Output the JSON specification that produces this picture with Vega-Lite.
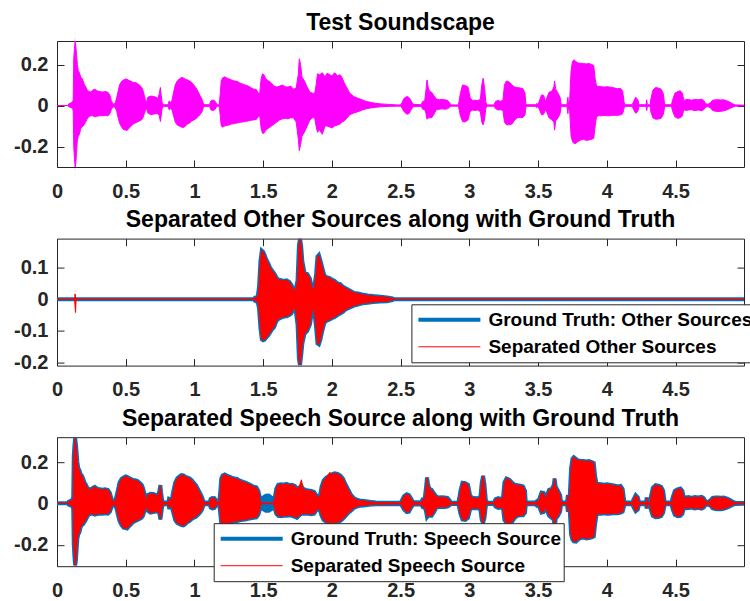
{
  "$schema": "https://vega.github.io/schema/vega-lite/v6.json",
  "background": "white",
  "padding": {"left": 13, "top": 11, "right": 0, "bottom": 0},
  "bounds": "flush",
  "spacing": 71.6,
  "datasets": {
    "soundscape": [
      {"t":0,"hi":0,"lo":0},{"t":0.08,"hi":0,"lo":0},{"t":0.085,"hi":0.008,"lo":-0.006},{"t":0.1,"hi":0.012,"lo":-0.01},{"t":0.115,"hi":0.02,"lo":-0.015},{"t":0.118,"hi":0.03,"lo":-0.03},{"t":0.122,"hi":0.23,"lo":-0.2},{"t":0.127,"hi":0.28,"lo":-0.26},{"t":0.132,"hi":0.315,"lo":-0.3},{"t":0.137,"hi":0.29,"lo":-0.28},{"t":0.142,"hi":0.25,"lo":-0.23},{"t":0.148,"hi":0.2,"lo":-0.17},{"t":0.155,"hi":0.17,"lo":-0.15},{"t":0.163,"hi":0.16,"lo":-0.14},{"t":0.172,"hi":0.14,"lo":-0.115},{"t":0.18,"hi":0.135,"lo":-0.105},{"t":0.19,"hi":0.12,"lo":-0.1},{"t":0.2,"hi":0.1,"lo":-0.09},{"t":0.21,"hi":0.09,"lo":-0.078},{"t":0.22,"hi":0.075,"lo":-0.065},{"t":0.23,"hi":0.07,"lo":-0.055},{"t":0.245,"hi":0.066,"lo":-0.05},{"t":0.26,"hi":0.075,"lo":-0.05},{"t":0.275,"hi":0.08,"lo":-0.055},{"t":0.29,"hi":0.072,"lo":-0.052},{"t":0.31,"hi":0.068,"lo":-0.05},{"t":0.33,"hi":0.066,"lo":-0.05},{"t":0.35,"hi":0.068,"lo":-0.048},{"t":0.37,"hi":0.065,"lo":-0.05},{"t":0.385,"hi":0.05,"lo":-0.04},{"t":0.395,"hi":0.025,"lo":-0.02},{"t":0.405,"hi":0.01,"lo":-0.008},{"t":0.415,"hi":0.006,"lo":-0.006},{"t":0.425,"hi":0.015,"lo":-0.012},{"t":0.435,"hi":0.04,"lo":-0.03},{"t":0.445,"hi":0.07,"lo":-0.06},{"t":0.455,"hi":0.1,"lo":-0.085},{"t":0.47,"hi":0.118,"lo":-0.105},{"t":0.485,"hi":0.125,"lo":-0.118},{"t":0.5,"hi":0.13,"lo":-0.12},{"t":0.51,"hi":0.128,"lo":-0.122},{"t":0.525,"hi":0.122,"lo":-0.11},{"t":0.54,"hi":0.118,"lo":-0.1},{"t":0.555,"hi":0.112,"lo":-0.09},{"t":0.57,"hi":0.112,"lo":-0.085},{"t":0.585,"hi":0.108,"lo":-0.08},{"t":0.6,"hi":0.1,"lo":-0.075},{"t":0.615,"hi":0.09,"lo":-0.07},{"t":0.625,"hi":0.075,"lo":-0.06},{"t":0.635,"hi":0.05,"lo":-0.04},{"t":0.645,"hi":0.02,"lo":-0.02},{"t":0.65,"hi":0.012,"lo":-0.012},{"t":0.66,"hi":0.04,"lo":-0.035},{"t":0.68,"hi":0.046,"lo":-0.045},{"t":0.7,"hi":0.045,"lo":-0.042},{"t":0.72,"hi":0.04,"lo":-0.04},{"t":0.735,"hi":0.035,"lo":-0.04},{"t":0.745,"hi":0.06,"lo":-0.05},{"t":0.752,"hi":0.088,"lo":-0.078},{"t":0.758,"hi":0.05,"lo":-0.05},{"t":0.765,"hi":0.015,"lo":-0.015},{"t":0.775,"hi":0.004,"lo":-0.004},{"t":0.81,"hi":0.004,"lo":-0.004},{"t":0.815,"hi":0.022,"lo":-0.02},{"t":0.822,"hi":0.02,"lo":-0.02},{"t":0.828,"hi":0.005,"lo":-0.005},{"t":0.838,"hi":0.03,"lo":-0.025},{"t":0.85,"hi":0.07,"lo":-0.055},{"t":0.86,"hi":0.1,"lo":-0.08},{"t":0.875,"hi":0.12,"lo":-0.095},{"t":0.89,"hi":0.13,"lo":-0.1},{"t":0.905,"hi":0.137,"lo":-0.105},{"t":0.92,"hi":0.135,"lo":-0.107},{"t":0.935,"hi":0.128,"lo":-0.1},{"t":0.95,"hi":0.125,"lo":-0.09},{"t":0.965,"hi":0.12,"lo":-0.085},{"t":0.98,"hi":0.112,"lo":-0.075},{"t":0.995,"hi":0.1,"lo":-0.07},{"t":1.01,"hi":0.088,"lo":-0.065},{"t":1.025,"hi":0.07,"lo":-0.055},{"t":1.04,"hi":0.05,"lo":-0.045},{"t":1.055,"hi":0.03,"lo":-0.03},{"t":1.065,"hi":0.01,"lo":-0.01},{"t":1.075,"hi":0.004,"lo":-0.004},{"t":1.11,"hi":0.004,"lo":-0.004},{"t":1.118,"hi":0.022,"lo":-0.02},{"t":1.13,"hi":0.026,"lo":-0.024},{"t":1.145,"hi":0.025,"lo":-0.022},{"t":1.158,"hi":0.012,"lo":-0.01},{"t":1.165,"hi":0.004,"lo":-0.004},{"t":1.18,"hi":0.004,"lo":-0.004},{"t":1.188,"hi":0.06,"lo":-0.05},{"t":1.195,"hi":0.12,"lo":-0.1},{"t":1.205,"hi":0.135,"lo":-0.105},{"t":1.22,"hi":0.14,"lo":-0.1},{"t":1.235,"hi":0.135,"lo":-0.097},{"t":1.25,"hi":0.13,"lo":-0.095},{"t":1.27,"hi":0.125,"lo":-0.09},{"t":1.29,"hi":0.12,"lo":-0.088},{"t":1.31,"hi":0.118,"lo":-0.085},{"t":1.33,"hi":0.11,"lo":-0.082},{"t":1.35,"hi":0.105,"lo":-0.08},{"t":1.37,"hi":0.1,"lo":-0.078},{"t":1.39,"hi":0.095,"lo":-0.075},{"t":1.41,"hi":0.088,"lo":-0.072},{"t":1.43,"hi":0.08,"lo":-0.07},{"t":1.45,"hi":0.078,"lo":-0.068},
      {"t":1.465,"hi":0.06,"lo":-0.055},{"t":1.475,"hi":0.06,"lo":-0.05},{"t":1.485,"hi":0.13,"lo":-0.11},{"t":1.495,"hi":0.155,"lo":-0.135},{"t":1.505,"hi":0.15,"lo":-0.135},{"t":1.52,"hi":0.13,"lo":-0.12},{"t":1.54,"hi":0.12,"lo":-0.11},{"t":1.56,"hi":0.11,"lo":-0.1},{"t":1.58,"hi":0.095,"lo":-0.09},{"t":1.6,"hi":0.09,"lo":-0.08},{"t":1.62,"hi":0.095,"lo":-0.07},{"t":1.64,"hi":0.1,"lo":-0.065},{"t":1.66,"hi":0.092,"lo":-0.062},{"t":1.68,"hi":0.09,"lo":-0.065},{"t":1.7,"hi":0.095,"lo":-0.06},{"t":1.72,"hi":0.08,"lo":-0.06},{"t":1.74,"hi":0.085,"lo":-0.08},{"t":1.755,"hi":0.15,"lo":-0.16},{"t":1.763,"hi":0.228,"lo":-0.22},{"t":1.772,"hi":0.2,"lo":-0.19},{"t":1.782,"hi":0.14,"lo":-0.15},{"t":1.8,"hi":0.12,"lo":-0.13},{"t":1.82,"hi":0.09,"lo":-0.1},{"t":1.84,"hi":0.065,"lo":-0.07},{"t":1.86,"hi":0.06,"lo":-0.06},{"t":1.875,"hi":0.06,"lo":-0.06},{"t":1.885,"hi":0.1,"lo":-0.1},{"t":1.895,"hi":0.155,"lo":-0.13},{"t":1.91,"hi":0.15,"lo":-0.12},{"t":1.93,"hi":0.16,"lo":-0.14},{"t":1.95,"hi":0.14,"lo":-0.1},{"t":1.965,"hi":0.158,"lo":-0.1},{"t":1.985,"hi":0.15,"lo":-0.105},{"t":2.0,"hi":0.145,"lo":-0.11},{"t":2.02,"hi":0.16,"lo":-0.1},{"t":2.04,"hi":0.145,"lo":-0.095},{"t":2.06,"hi":0.15,"lo":-0.09},{"t":2.075,"hi":0.135,"lo":-0.08},{"t":2.09,"hi":0.11,"lo":-0.075},{"t":2.11,"hi":0.085,"lo":-0.06},{"t":2.13,"hi":0.06,"lo":-0.045},{"t":2.16,"hi":0.044,"lo":-0.036},{"t":2.19,"hi":0.035,"lo":-0.03},{"t":2.22,"hi":0.028,"lo":-0.022},{"t":2.25,"hi":0.02,"lo":-0.016},{"t":2.28,"hi":0.016,"lo":-0.012},{"t":2.32,"hi":0.01,"lo":-0.008},{"t":2.36,"hi":0.008,"lo":-0.006},{"t":2.42,"hi":0.005,"lo":-0.004},{"t":2.48,"hi":0.003,"lo":-0.003},
      {"t":2.5,"hi":0.003,"lo":-0.003},{"t":2.51,"hi":0.015,"lo":-0.012},{"t":2.525,"hi":0.035,"lo":-0.03},{"t":2.545,"hi":0.044,"lo":-0.042},{"t":2.56,"hi":0.04,"lo":-0.04},{"t":2.575,"hi":0.025,"lo":-0.022},{"t":2.59,"hi":0.006,"lo":-0.006},{"t":2.65,"hi":0.004,"lo":-0.004},{"t":2.66,"hi":0.02,"lo":-0.018},{"t":2.675,"hi":0.022,"lo":-0.02},{"t":2.685,"hi":0.08,"lo":-0.04},{"t":2.692,"hi":0.125,"lo":-0.067},{"t":2.7,"hi":0.09,"lo":-0.06},{"t":2.71,"hi":0.07,"lo":-0.06},{"t":2.725,"hi":0.065,"lo":-0.06},{"t":2.74,"hi":0.05,"lo":-0.045},{"t":2.76,"hi":0.032,"lo":-0.02},{"t":2.78,"hi":0.028,"lo":-0.018},{"t":2.8,"hi":0.03,"lo":-0.016},{"t":2.82,"hi":0.028,"lo":-0.018},{"t":2.84,"hi":0.026,"lo":-0.016},{"t":2.855,"hi":0.015,"lo":-0.01},{"t":2.865,"hi":0.003,"lo":-0.003},{"t":2.92,"hi":0.003,"lo":-0.003},{"t":2.925,"hi":0.02,"lo":-0.018},{"t":2.935,"hi":0.06,"lo":-0.05},{"t":2.95,"hi":0.1,"lo":-0.078},{"t":2.97,"hi":0.098,"lo":-0.08},{"t":2.99,"hi":0.09,"lo":-0.07},{"t":3.005,"hi":0.04,"lo":-0.03},{"t":3.02,"hi":0.025,"lo":-0.022},{"t":3.04,"hi":0.026,"lo":-0.024},{"t":3.06,"hi":0.024,"lo":-0.022},{"t":3.08,"hi":0.03,"lo":-0.03},{"t":3.09,"hi":0.1,"lo":-0.08},{"t":3.1,"hi":0.133,"lo":-0.094},{"t":3.11,"hi":0.09,"lo":-0.07},{"t":3.12,"hi":0.015,"lo":-0.012},{"t":3.13,"hi":0.003,"lo":-0.003},{"t":3.18,"hi":0.003,"lo":-0.003},{"t":3.19,"hi":0.02,"lo":-0.015},{"t":3.21,"hi":0.025,"lo":-0.022},{"t":3.23,"hi":0.02,"lo":-0.02},{"t":3.245,"hi":0.03,"lo":-0.025},{"t":3.255,"hi":0.1,"lo":-0.08},{"t":3.27,"hi":0.12,"lo":-0.094},{"t":3.29,"hi":0.115,"lo":-0.094},{"t":3.31,"hi":0.1,"lo":-0.09},{"t":3.33,"hi":0.09,"lo":-0.07},{"t":3.35,"hi":0.088,"lo":-0.06},{"t":3.37,"hi":0.085,"lo":-0.058},{"t":3.39,"hi":0.082,"lo":-0.058},{"t":3.405,"hi":0.06,"lo":-0.045},{"t":3.41,"hi":0.01,"lo":-0.01},{"t":3.42,"hi":0.004,"lo":-0.004},{"t":3.48,"hi":0.004,"lo":-0.004},{"t":3.49,"hi":0.01,"lo":-0.01},{"t":3.5,"hi":0.005,"lo":-0.005},{"t":3.513,"hi":0.03,"lo":-0.025},{"t":3.525,"hi":0.052,"lo":-0.045},{"t":3.54,"hi":0.05,"lo":-0.042},{"t":3.555,"hi":0.02,"lo":-0.02},{"t":3.565,"hi":0.04,"lo":-0.035},{"t":3.58,"hi":0.065,"lo":-0.06},{"t":3.6,"hi":0.07,"lo":-0.07},{"t":3.615,"hi":0.09,"lo":-0.08},{"t":3.62,"hi":0.12,"lo":-0.12},{"t":3.628,"hi":0.08,"lo":-0.075},{"t":3.645,"hi":0.06,"lo":-0.06},{"t":3.66,"hi":0.04,"lo":-0.04},{"t":3.668,"hi":0.004,"lo":-0.004},{"t":3.71,"hi":0.004,"lo":-0.004},{"t":3.717,"hi":0.04,"lo":-0.04},{"t":3.722,"hi":0.004,"lo":-0.004},{"t":3.73,"hi":0.03,"lo":-0.03},{"t":3.74,"hi":0.17,"lo":-0.15},{"t":3.75,"hi":0.215,"lo":-0.175},{"t":3.76,"hi":0.223,"lo":-0.184},{"t":3.775,"hi":0.215,"lo":-0.185},{"t":3.79,"hi":0.208,"lo":-0.175},{"t":3.81,"hi":0.206,"lo":-0.168},{"t":3.83,"hi":0.205,"lo":-0.165},{"t":3.85,"hi":0.203,"lo":-0.17},{"t":3.87,"hi":0.205,"lo":-0.168},{"t":3.89,"hi":0.2,"lo":-0.165},{"t":3.905,"hi":0.195,"lo":-0.16},{"t":3.915,"hi":0.13,"lo":-0.1},{"t":3.925,"hi":0.095,"lo":-0.055},{"t":3.94,"hi":0.094,"lo":-0.05},{"t":3.96,"hi":0.092,"lo":-0.05},{"t":3.98,"hi":0.09,"lo":-0.048},{"t":4.0,"hi":0.092,"lo":-0.05},{"t":4.02,"hi":0.09,"lo":-0.05},{"t":4.04,"hi":0.088,"lo":-0.048},{"t":4.06,"hi":0.085,"lo":-0.048},{"t":4.08,"hi":0.082,"lo":-0.048},{"t":4.1,"hi":0.084,"lo":-0.045},{"t":4.115,"hi":0.07,"lo":-0.04},{"t":4.125,"hi":0.02,"lo":-0.015},{"t":4.13,"hi":0.004,"lo":-0.004},{"t":4.185,"hi":0.004,"lo":-0.004},{"t":4.195,"hi":0.02,"lo":-0.02},{"t":4.21,"hi":0.04,"lo":-0.038},{"t":4.225,"hi":0.03,"lo":-0.03},{"t":4.235,"hi":0.004,"lo":-0.004},{"t":4.285,"hi":0.004,"lo":-0.004},{"t":4.29,"hi":0.028,"lo":-0.025},{"t":4.295,"hi":0.004,"lo":-0.004},{"t":4.315,"hi":0.004,"lo":-0.004},{"t":4.32,"hi":0.03,"lo":-0.03},{"t":4.335,"hi":0.075,"lo":-0.06},{"t":4.355,"hi":0.088,"lo":-0.067},{"t":4.375,"hi":0.085,"lo":-0.066},{"t":4.395,"hi":0.08,"lo":-0.062},{"t":4.41,"hi":0.06,"lo":-0.045},{"t":4.42,"hi":0.01,"lo":-0.01},{"t":4.43,"hi":0.004,"lo":-0.004},{"t":4.47,"hi":0.004,"lo":-0.004},{"t":4.48,"hi":0.03,"lo":-0.03},{"t":4.495,"hi":0.06,"lo":-0.055},{"t":4.515,"hi":0.068,"lo":-0.062},{"t":4.535,"hi":0.072,"lo":-0.06},{"t":4.55,"hi":0.06,"lo":-0.05},{"t":4.56,"hi":0.025,"lo":-0.02},{"t":4.575,"hi":0.028,"lo":-0.024},{"t":4.595,"hi":0.03,"lo":-0.022},{"t":4.615,"hi":0.026,"lo":-0.02},{"t":4.64,"hi":0.03,"lo":-0.025},{"t":4.665,"hi":0.028,"lo":-0.022},{"t":4.69,"hi":0.031,"lo":-0.026},{"t":4.705,"hi":0.025,"lo":-0.02},{"t":4.718,"hi":0.01,"lo":-0.008},{"t":4.735,"hi":0.006,"lo":-0.005},{"t":4.755,"hi":0.015,"lo":-0.012},{"t":4.77,"hi":0.026,"lo":-0.024},{"t":4.79,"hi":0.028,"lo":-0.028},{"t":4.81,"hi":0.028,"lo":-0.029},{"t":4.83,"hi":0.027,"lo":-0.028},{"t":4.85,"hi":0.028,"lo":-0.026},{"t":4.87,"hi":0.024,"lo":-0.022},{"t":4.89,"hi":0.018,"lo":-0.016},{"t":4.91,"hi":0.01,"lo":-0.009},{"t":4.935,"hi":0.003,"lo":-0.003},{"t":4.998,"hi":0.002,"lo":-0.002}
    ],
    "other": [
      {"t":0,"gtHi":0,"gtLo":0,"sepHi":0,"sepLo":0},{"t":0.128,"gtHi":0,"gtLo":0,"sepHi":0,"sepLo":0},{"t":0.131,"gtHi":0,"gtLo":0,"sepHi":0.017,"sepLo":-0.02},{"t":0.135,"gtHi":0,"gtLo":0,"sepHi":0.008,"sepLo":-0.042},{"t":0.139,"gtHi":0,"gtLo":0,"sepHi":0,"sepLo":0},{"t":1.43,"gtHi":0,"gtLo":0,"sepHi":0,"sepLo":0},{"t":1.44,"gtHi":0.005,"gtLo":-0.005,"sepHi":0.005,"sepLo":-0.005},{"t":1.46,"gtHi":0.008,"gtLo":-0.008,"sepHi":0.008,"sepLo":-0.008},{"t":1.47,"gtHi":0.04,"gtLo":-0.03,"sepHi":0.04,"sepLo":-0.03},{"t":1.48,"gtHi":0.12,"gtLo":-0.09,"sepHi":0.12,"sepLo":-0.09},{"t":1.49,"gtHi":0.154,"gtLo":-0.127,"sepHi":0.154,"sepLo":-0.127},{"t":1.5,"gtHi":0.15,"gtLo":-0.13,"sepHi":0.15,"sepLo":-0.13},{"t":1.51,"gtHi":0.14,"gtLo":-0.128,"sepHi":0.14,"sepLo":-0.128},{"t":1.52,"gtHi":0.128,"gtLo":-0.122,"sepHi":0.128,"sepLo":-0.122},{"t":1.535,"gtHi":0.115,"gtLo":-0.115,"sepHi":0.115,"sepLo":-0.115},{"t":1.55,"gtHi":0.1,"gtLo":-0.105,"sepHi":0.1,"sepLo":-0.105},{"t":1.565,"gtHi":0.09,"gtLo":-0.095,"sepHi":0.09,"sepLo":-0.095},{"t":1.58,"gtHi":0.082,"gtLo":-0.088,"sepHi":0.082,"sepLo":-0.088},{"t":1.595,"gtHi":0.07,"gtLo":-0.07,"sepHi":0.07,"sepLo":-0.07},{"t":1.61,"gtHi":0.062,"gtLo":-0.062,"sepHi":0.062,"sepLo":-0.062},{"t":1.63,"gtHi":0.06,"gtLo":-0.058,"sepHi":0.06,"sepLo":-0.058},{"t":1.65,"gtHi":0.058,"gtLo":-0.055,"sepHi":0.058,"sepLo":-0.055},{"t":1.67,"gtHi":0.06,"gtLo":-0.054,"sepHi":0.06,"sepLo":-0.054},{"t":1.69,"gtHi":0.055,"gtLo":-0.05,"sepHi":0.055,"sepLo":-0.05},{"t":1.705,"gtHi":0.045,"gtLo":-0.045,"sepHi":0.045,"sepLo":-0.045},{"t":1.72,"gtHi":0.03,"gtLo":-0.03,"sepHi":0.03,"sepLo":-0.03},{"t":1.735,"gtHi":0.028,"gtLo":-0.03,"sepHi":0.028,"sepLo":-0.03},{"t":1.75,"gtHi":0.06,"gtLo":-0.08,"sepHi":0.06,"sepLo":-0.08},{"t":1.76,"gtHi":0.17,"gtLo":-0.19,"sepHi":0.17,"sepLo":-0.19},{"t":1.768,"gtHi":0.192,"gtLo":-0.209,"sepHi":0.192,"sepLo":-0.209},{"t":1.776,"gtHi":0.17,"gtLo":-0.18,"sepHi":0.17,"sepLo":-0.18},{"t":1.785,"gtHi":0.12,"gtLo":-0.14,"sepHi":0.12,"sepLo":-0.14},{"t":1.8,"gtHi":0.085,"gtLo":-0.11,"sepHi":0.085,"sepLo":-0.11},{"t":1.82,"gtHi":0.08,"gtLo":-0.1,"sepHi":0.08,"sepLo":-0.1},{"t":1.84,"gtHi":0.065,"gtLo":-0.08,"sepHi":0.065,"sepLo":-0.08},{"t":1.855,"gtHi":0.035,"gtLo":-0.04,"sepHi":0.035,"sepLo":-0.04},{"t":1.87,"gtHi":0.03,"gtLo":-0.03,"sepHi":0.03,"sepLo":-0.03},{"t":1.885,"gtHi":0.08,"gtLo":-0.09,"sepHi":0.08,"sepLo":-0.09},{"t":1.895,"gtHi":0.135,"gtLo":-0.14,"sepHi":0.135,"sepLo":-0.14},{"t":1.905,"gtHi":0.14,"gtLo":-0.143,"sepHi":0.14,"sepLo":-0.143},{"t":1.915,"gtHi":0.125,"gtLo":-0.13,"sepHi":0.125,"sepLo":-0.13},{"t":1.93,"gtHi":0.1,"gtLo":-0.1,"sepHi":0.1,"sepLo":-0.1},{"t":1.945,"gtHi":0.075,"gtLo":-0.075,"sepHi":0.075,"sepLo":-0.075},{"t":1.96,"gtHi":0.07,"gtLo":-0.068,"sepHi":0.07,"sepLo":-0.068},{"t":1.98,"gtHi":0.068,"gtLo":-0.065,"sepHi":0.068,"sepLo":-0.065},{"t":2.0,"gtHi":0.062,"gtLo":-0.06,"sepHi":0.062,"sepLo":-0.06},{"t":2.02,"gtHi":0.058,"gtLo":-0.056,"sepHi":0.058,"sepLo":-0.056},{"t":2.04,"gtHi":0.05,"gtLo":-0.05,"sepHi":0.05,"sepLo":-0.05},{"t":2.06,"gtHi":0.048,"gtLo":-0.045,"sepHi":0.048,"sepLo":-0.045},{"t":2.08,"gtHi":0.04,"gtLo":-0.04,"sepHi":0.04,"sepLo":-0.04},{"t":2.1,"gtHi":0.035,"gtLo":-0.032,"sepHi":0.035,"sepLo":-0.032},{"t":2.13,"gtHi":0.028,"gtLo":-0.026,"sepHi":0.028,"sepLo":-0.026},{"t":2.16,"gtHi":0.02,"gtLo":-0.02,"sepHi":0.02,"sepLo":-0.02},{"t":2.19,"gtHi":0.018,"gtLo":-0.017,"sepHi":0.018,"sepLo":-0.017},{"t":2.22,"gtHi":0.015,"gtLo":-0.013,"sepHi":0.015,"sepLo":-0.013},{"t":2.26,"gtHi":0.012,"gtLo":-0.011,"sepHi":0.012,"sepLo":-0.011},{"t":2.3,"gtHi":0.01,"gtLo":-0.009,"sepHi":0.01,"sepLo":-0.009},{"t":2.35,"gtHi":0.008,"gtLo":-0.007,"sepHi":0.008,"sepLo":-0.007},{"t":2.4,"gtHi":0.006,"gtLo":-0.006,"sepHi":0.006,"sepLo":-0.006},{"t":2.44,"gtHi":0.003,"gtLo":-0.003,"sepHi":0.003,"sepLo":-0.003},{"t":2.45,"gtHi":0,"gtLo":0,"sepHi":0,"sepLo":0},{"t":4.998,"gtHi":0,"gtLo":0,"sepHi":0,"sepLo":0}
    ],
    "speech": [
      {"t":0,"gtHi":0,"gtLo":0,"sepHi":0,"sepLo":0},{"t":0.08,"gtHi":0,"gtLo":0,"sepHi":0,"sepLo":0},{"t":0.085,"gtHi":0.008,"gtLo":-0.006,"sepHi":0.008,"sepLo":-0.006},{"t":0.1,"gtHi":0.012,"gtLo":-0.01,"sepHi":0.012,"sepLo":-0.01},{"t":0.115,"gtHi":0.02,"gtLo":-0.015,"sepHi":0.02,"sepLo":-0.015},{"t":0.118,"gtHi":0.03,"gtLo":-0.03,"sepHi":0.03,"sepLo":-0.03},{"t":0.122,"gtHi":0.23,"gtLo":-0.2,"sepHi":0.23,"sepLo":-0.2},{"t":0.127,"gtHi":0.28,"gtLo":-0.26,"sepHi":0.28,"sepLo":-0.26},{"t":0.132,"gtHi":0.315,"gtLo":-0.3,"sepHi":0.315,"sepLo":-0.3},{"t":0.137,"gtHi":0.29,"gtLo":-0.28,"sepHi":0.29,"sepLo":-0.28},{"t":0.142,"gtHi":0.25,"gtLo":-0.23,"sepHi":0.25,"sepLo":-0.23},{"t":0.148,"gtHi":0.2,"gtLo":-0.17,"sepHi":0.2,"sepLo":-0.17},{"t":0.155,"gtHi":0.17,"gtLo":-0.15,"sepHi":0.17,"sepLo":-0.15},{"t":0.163,"gtHi":0.16,"gtLo":-0.14,"sepHi":0.16,"sepLo":-0.14},{"t":0.172,"gtHi":0.14,"gtLo":-0.115,"sepHi":0.14,"sepLo":-0.115},{"t":0.18,"gtHi":0.135,"gtLo":-0.105,"sepHi":0.135,"sepLo":-0.105},{"t":0.19,"gtHi":0.12,"gtLo":-0.1,"sepHi":0.12,"sepLo":-0.1},{"t":0.2,"gtHi":0.1,"gtLo":-0.09,"sepHi":0.1,"sepLo":-0.09},{"t":0.21,"gtHi":0.09,"gtLo":-0.078,"sepHi":0.09,"sepLo":-0.078},{"t":0.22,"gtHi":0.075,"gtLo":-0.065,"sepHi":0.075,"sepLo":-0.065},{"t":0.23,"gtHi":0.07,"gtLo":-0.055,"sepHi":0.07,"sepLo":-0.055},{"t":0.245,"gtHi":0.066,"gtLo":-0.05,"sepHi":0.066,"sepLo":-0.05},{"t":0.26,"gtHi":0.075,"gtLo":-0.05,"sepHi":0.075,"sepLo":-0.05},{"t":0.275,"gtHi":0.08,"gtLo":-0.055,"sepHi":0.08,"sepLo":-0.055},{"t":0.29,"gtHi":0.072,"gtLo":-0.052,"sepHi":0.072,"sepLo":-0.052},{"t":0.31,"gtHi":0.068,"gtLo":-0.05,"sepHi":0.068,"sepLo":-0.05},{"t":0.33,"gtHi":0.066,"gtLo":-0.05,"sepHi":0.066,"sepLo":-0.05},{"t":0.35,"gtHi":0.068,"gtLo":-0.048,"sepHi":0.068,"sepLo":-0.048},{"t":0.37,"gtHi":0.065,"gtLo":-0.05,"sepHi":0.065,"sepLo":-0.05},{"t":0.385,"gtHi":0.05,"gtLo":-0.04,"sepHi":0.05,"sepLo":-0.04},{"t":0.395,"gtHi":0.025,"gtLo":-0.02,"sepHi":0.025,"sepLo":-0.02},{"t":0.405,"gtHi":0.01,"gtLo":-0.008,"sepHi":0.01,"sepLo":-0.008},{"t":0.415,"gtHi":0.006,"gtLo":-0.006,"sepHi":0.006,"sepLo":-0.006},{"t":0.425,"gtHi":0.015,"gtLo":-0.012,"sepHi":0.015,"sepLo":-0.012},{"t":0.435,"gtHi":0.04,"gtLo":-0.03,"sepHi":0.04,"sepLo":-0.03},{"t":0.445,"gtHi":0.07,"gtLo":-0.06,"sepHi":0.07,"sepLo":-0.06},{"t":0.455,"gtHi":0.1,"gtLo":-0.085,"sepHi":0.1,"sepLo":-0.085},{"t":0.47,"gtHi":0.118,"gtLo":-0.105,"sepHi":0.118,"sepLo":-0.105},{"t":0.485,"gtHi":0.125,"gtLo":-0.118,"sepHi":0.125,"sepLo":-0.118},{"t":0.5,"gtHi":0.13,"gtLo":-0.12,"sepHi":0.13,"sepLo":-0.12},{"t":0.51,"gtHi":0.128,"gtLo":-0.122,"sepHi":0.128,"sepLo":-0.122},{"t":0.525,"gtHi":0.122,"gtLo":-0.11,"sepHi":0.122,"sepLo":-0.11},{"t":0.54,"gtHi":0.118,"gtLo":-0.1,"sepHi":0.118,"sepLo":-0.1},{"t":0.555,"gtHi":0.112,"gtLo":-0.09,"sepHi":0.112,"sepLo":-0.09},{"t":0.57,"gtHi":0.112,"gtLo":-0.085,"sepHi":0.112,"sepLo":-0.085},{"t":0.585,"gtHi":0.108,"gtLo":-0.08,"sepHi":0.108,"sepLo":-0.08},{"t":0.6,"gtHi":0.1,"gtLo":-0.075,"sepHi":0.1,"sepLo":-0.075},{"t":0.615,"gtHi":0.09,"gtLo":-0.07,"sepHi":0.09,"sepLo":-0.07},{"t":0.625,"gtHi":0.075,"gtLo":-0.06,"sepHi":0.075,"sepLo":-0.06},{"t":0.635,"gtHi":0.05,"gtLo":-0.04,"sepHi":0.05,"sepLo":-0.04},{"t":0.645,"gtHi":0.02,"gtLo":-0.02,"sepHi":0.02,"sepLo":-0.02},{"t":0.65,"gtHi":0.012,"gtLo":-0.012,"sepHi":0.012,"sepLo":-0.012},{"t":0.66,"gtHi":0.04,"gtLo":-0.035,"sepHi":0.04,"sepLo":-0.035},{"t":0.68,"gtHi":0.046,"gtLo":-0.045,"sepHi":0.046,"sepLo":-0.045},{"t":0.7,"gtHi":0.045,"gtLo":-0.042,"sepHi":0.045,"sepLo":-0.042},{"t":0.72,"gtHi":0.04,"gtLo":-0.04,"sepHi":0.04,"sepLo":-0.04},{"t":0.735,"gtHi":0.035,"gtLo":-0.04,"sepHi":0.035,"sepLo":-0.04},{"t":0.745,"gtHi":0.06,"gtLo":-0.05,"sepHi":0.06,"sepLo":-0.05},{"t":0.752,"gtHi":0.088,"gtLo":-0.078,"sepHi":0.088,"sepLo":-0.078},{"t":0.758,"gtHi":0.05,"gtLo":-0.05,"sepHi":0.05,"sepLo":-0.05},{"t":0.765,"gtHi":0.015,"gtLo":-0.015,"sepHi":0.015,"sepLo":-0.015},{"t":0.775,"gtHi":0.004,"gtLo":-0.004,"sepHi":0.004,"sepLo":-0.004},{"t":0.81,"gtHi":0.004,"gtLo":-0.004,"sepHi":0.004,"sepLo":-0.004},{"t":0.815,"gtHi":0.022,"gtLo":-0.02,"sepHi":0.022,"sepLo":-0.02},{"t":0.822,"gtHi":0.02,"gtLo":-0.02,"sepHi":0.02,"sepLo":-0.02},{"t":0.828,"gtHi":0.005,"gtLo":-0.005,"sepHi":0.005,"sepLo":-0.005},{"t":0.838,"gtHi":0.03,"gtLo":-0.025,"sepHi":0.03,"sepLo":-0.025},{"t":0.85,"gtHi":0.07,"gtLo":-0.055,"sepHi":0.07,"sepLo":-0.055},{"t":0.86,"gtHi":0.1,"gtLo":-0.08,"sepHi":0.1,"sepLo":-0.08},{"t":0.875,"gtHi":0.12,"gtLo":-0.095,"sepHi":0.12,"sepLo":-0.095},{"t":0.89,"gtHi":0.13,"gtLo":-0.1,"sepHi":0.13,"sepLo":-0.1},{"t":0.905,"gtHi":0.137,"gtLo":-0.105,"sepHi":0.137,"sepLo":-0.105},{"t":0.92,"gtHi":0.135,"gtLo":-0.107,"sepHi":0.135,"sepLo":-0.107},{"t":0.935,"gtHi":0.128,"gtLo":-0.1,"sepHi":0.128,"sepLo":-0.1},{"t":0.95,"gtHi":0.125,"gtLo":-0.09,"sepHi":0.125,"sepLo":-0.09},{"t":0.965,"gtHi":0.12,"gtLo":-0.085,"sepHi":0.12,"sepLo":-0.085},{"t":0.98,"gtHi":0.112,"gtLo":-0.075,"sepHi":0.112,"sepLo":-0.075},{"t":0.995,"gtHi":0.1,"gtLo":-0.07,"sepHi":0.1,"sepLo":-0.07},{"t":1.01,"gtHi":0.088,"gtLo":-0.065,"sepHi":0.088,"sepLo":-0.065},{"t":1.025,"gtHi":0.07,"gtLo":-0.055,"sepHi":0.07,"sepLo":-0.055},{"t":1.04,"gtHi":0.05,"gtLo":-0.045,"sepHi":0.05,"sepLo":-0.045},{"t":1.055,"gtHi":0.03,"gtLo":-0.03,"sepHi":0.03,"sepLo":-0.03},{"t":1.065,"gtHi":0.01,"gtLo":-0.01,"sepHi":0.01,"sepLo":-0.01},{"t":1.075,"gtHi":0.004,"gtLo":-0.004,"sepHi":0.004,"sepLo":-0.004},{"t":1.11,"gtHi":0.004,"gtLo":-0.004,"sepHi":0.004,"sepLo":-0.004},{"t":1.118,"gtHi":0.022,"gtLo":-0.02,"sepHi":0.022,"sepLo":-0.02},{"t":1.13,"gtHi":0.026,"gtLo":-0.024,"sepHi":0.026,"sepLo":-0.024},{"t":1.145,"gtHi":0.025,"gtLo":-0.022,"sepHi":0.025,"sepLo":-0.022},{"t":1.158,"gtHi":0.012,"gtLo":-0.01,"sepHi":0.012,"sepLo":-0.01},{"t":1.165,"gtHi":0.004,"gtLo":-0.004,"sepHi":0.004,"sepLo":-0.004},{"t":1.18,"gtHi":0.004,"gtLo":-0.004,"sepHi":0.004,"sepLo":-0.004},{"t":1.188,"gtHi":0.06,"gtLo":-0.05,"sepHi":0.06,"sepLo":-0.05},{"t":1.195,"gtHi":0.12,"gtLo":-0.1,"sepHi":0.12,"sepLo":-0.1},{"t":1.205,"gtHi":0.135,"gtLo":-0.105,"sepHi":0.135,"sepLo":-0.105},{"t":1.22,"gtHi":0.14,"gtLo":-0.1,"sepHi":0.14,"sepLo":-0.1},{"t":1.235,"gtHi":0.135,"gtLo":-0.097,"sepHi":0.135,"sepLo":-0.097},{"t":1.25,"gtHi":0.13,"gtLo":-0.095,"sepHi":0.13,"sepLo":-0.095},{"t":1.27,"gtHi":0.125,"gtLo":-0.09,"sepHi":0.125,"sepLo":-0.09},{"t":1.29,"gtHi":0.12,"gtLo":-0.088,"sepHi":0.12,"sepLo":-0.088},{"t":1.31,"gtHi":0.118,"gtLo":-0.085,"sepHi":0.118,"sepLo":-0.085},{"t":1.33,"gtHi":0.11,"gtLo":-0.082,"sepHi":0.11,"sepLo":-0.082},{"t":1.35,"gtHi":0.105,"gtLo":-0.08,"sepHi":0.105,"sepLo":-0.08},{"t":1.37,"gtHi":0.1,"gtLo":-0.078,"sepHi":0.1,"sepLo":-0.078},{"t":1.39,"gtHi":0.095,"gtLo":-0.075,"sepHi":0.095,"sepLo":-0.075},{"t":1.41,"gtHi":0.088,"gtLo":-0.072,"sepHi":0.088,"sepLo":-0.072},{"t":1.43,"gtHi":0.08,"gtLo":-0.07,"sepHi":0.08,"sepLo":-0.07},{"t":1.45,"gtHi":0.078,"gtLo":-0.068,"sepHi":0.078,"sepLo":-0.068},{"t":1.465,"gtHi":0.06,"gtLo":-0.055,"sepHi":0.06,"sepLo":-0.055},{"t":1.475,"gtHi":0.03,"gtLo":-0.03,"sepHi":0.03,"sepLo":-0.03},{"t":1.48,"gtHi":0.01,"gtLo":-0.01,"sepHi":0.01,"sepLo":-0.01},{"t":1.49,"gtHi":0.012,"gtLo":-0.012,"sepHi":0.002,"sepLo":-0.002},{"t":1.5,"gtHi":0.028,"gtLo":-0.028,"sepHi":0.002,"sepLo":-0.002},{"t":1.52,"gtHi":0.037,"gtLo":-0.036,"sepHi":0.002,"sepLo":-0.002},{"t":1.54,"gtHi":0.038,"gtLo":-0.036,"sepHi":0.002,"sepLo":-0.002},{"t":1.56,"gtHi":0.028,"gtLo":-0.028,"sepHi":0.002,"sepLo":-0.002},{"t":1.575,"gtHi":0.01,"gtLo":-0.01,"sepHi":0.002,"sepLo":-0.002},{"t":1.585,"gtHi":0.03,"gtLo":-0.025,"sepHi":0.03,"sepLo":-0.025},{"t":1.595,"gtHi":0.07,"gtLo":-0.05,"sepHi":0.07,"sepLo":-0.05},{"t":1.61,"gtHi":0.09,"gtLo":-0.06,"sepHi":0.09,"sepLo":-0.06},{"t":1.63,"gtHi":0.092,"gtLo":-0.062,"sepHi":0.092,"sepLo":-0.062},{"t":1.65,"gtHi":0.09,"gtLo":-0.06,"sepHi":0.09,"sepLo":-0.06},{"t":1.67,"gtHi":0.094,"gtLo":-0.06,"sepHi":0.094,"sepLo":-0.06},{"t":1.69,"gtHi":0.088,"gtLo":-0.058,"sepHi":0.088,"sepLo":-0.058},{"t":1.71,"gtHi":0.09,"gtLo":-0.06,"sepHi":0.09,"sepLo":-0.06},{"t":1.73,"gtHi":0.085,"gtLo":-0.065,"sepHi":0.085,"sepLo":-0.065},{"t":1.745,"gtHi":0.07,"gtLo":-0.07,"sepHi":0.07,"sepLo":-0.07},{"t":1.76,"gtHi":0.075,"gtLo":-0.06,"sepHi":0.075,"sepLo":-0.06},{"t":1.778,"gtHi":0.085,"gtLo":-0.05,"sepHi":0.114,"sepLo":-0.05},{"t":1.79,"gtHi":0.07,"gtLo":-0.05,"sepHi":0.07,"sepLo":-0.05},{"t":1.81,"gtHi":0.065,"gtLo":-0.05,"sepHi":0.065,"sepLo":-0.05},{"t":1.83,"gtHi":0.062,"gtLo":-0.05,"sepHi":0.062,"sepLo":-0.05},{"t":1.85,"gtHi":0.06,"gtLo":-0.052,"sepHi":0.06,"sepLo":-0.052},{"t":1.87,"gtHi":0.055,"gtLo":-0.05,"sepHi":0.055,"sepLo":-0.05},{"t":1.885,"gtHi":0.04,"gtLo":-0.035,"sepHi":0.04,"sepLo":-0.035},{"t":1.91,"gtHi":0.025,"gtLo":-0.025,"sepHi":0.025,"sepLo":-0.025},{"t":1.925,"gtHi":0.08,"gtLo":-0.06,"sepHi":0.08,"sepLo":-0.06},{"t":1.94,"gtHi":0.11,"gtLo":-0.08,"sepHi":0.11,"sepLo":-0.08},{"t":1.96,"gtHi":0.125,"gtLo":-0.09,"sepHi":0.125,"sepLo":-0.09},{"t":1.985,"gtHi":0.135,"gtLo":-0.093,"sepHi":0.15,"sepLo":-0.093},{"t":2.0,"gtHi":0.14,"gtLo":-0.095,"sepHi":0.14,"sepLo":-0.095},{"t":2.02,"gtHi":0.145,"gtLo":-0.093,"sepHi":0.145,"sepLo":-0.093},{"t":2.04,"gtHi":0.142,"gtLo":-0.09,"sepHi":0.142,"sepLo":-0.09},{"t":2.06,"gtHi":0.135,"gtLo":-0.085,"sepHi":0.135,"sepLo":-0.085},{"t":2.08,"gtHi":0.12,"gtLo":-0.075,"sepHi":0.12,"sepLo":-0.075},{"t":2.1,"gtHi":0.09,"gtLo":-0.06,"sepHi":0.09,"sepLo":-0.06},{"t":2.12,"gtHi":0.065,"gtLo":-0.045,"sepHi":0.065,"sepLo":-0.045},{"t":2.14,"gtHi":0.04,"gtLo":-0.035,"sepHi":0.04,"sepLo":-0.035},{"t":2.16,"gtHi":0.025,"gtLo":-0.022,"sepHi":0.025,"sepLo":-0.022},{"t":2.18,"gtHi":0.018,"gtLo":-0.016,"sepHi":0.018,"sepLo":-0.016},{"t":2.2,"gtHi":0.014,"gtLo":-0.012,"sepHi":0.014,"sepLo":-0.012},{"t":2.23,"gtHi":0.012,"gtLo":-0.01,"sepHi":0.012,"sepLo":-0.01},{"t":2.26,"gtHi":0.009,"gtLo":-0.008,"sepHi":0.009,"sepLo":-0.008},{"t":2.29,"gtHi":0.006,"gtLo":-0.005,"sepHi":0.006,"sepLo":-0.005},{"t":2.32,"gtHi":0.004,"gtLo":-0.004,"sepHi":0.004,"sepLo":-0.004},
      {"t":2.5,"gtHi":0.003,"gtLo":-0.003,"sepHi":0.003,"sepLo":-0.003},{"t":2.51,"gtHi":0.015,"gtLo":-0.012,"sepHi":0.015,"sepLo":-0.012},{"t":2.525,"gtHi":0.035,"gtLo":-0.03,"sepHi":0.035,"sepLo":-0.03},{"t":2.545,"gtHi":0.044,"gtLo":-0.042,"sepHi":0.044,"sepLo":-0.042},{"t":2.56,"gtHi":0.04,"gtLo":-0.04,"sepHi":0.04,"sepLo":-0.04},{"t":2.575,"gtHi":0.025,"gtLo":-0.022,"sepHi":0.025,"sepLo":-0.022},{"t":2.59,"gtHi":0.006,"gtLo":-0.006,"sepHi":0.006,"sepLo":-0.006},{"t":2.65,"gtHi":0.004,"gtLo":-0.004,"sepHi":0.004,"sepLo":-0.004},{"t":2.66,"gtHi":0.02,"gtLo":-0.018,"sepHi":0.02,"sepLo":-0.018},{"t":2.675,"gtHi":0.022,"gtLo":-0.02,"sepHi":0.022,"sepLo":-0.02},{"t":2.685,"gtHi":0.08,"gtLo":-0.04,"sepHi":0.08,"sepLo":-0.04},{"t":2.692,"gtHi":0.125,"gtLo":-0.067,"sepHi":0.125,"sepLo":-0.067},{"t":2.7,"gtHi":0.09,"gtLo":-0.06,"sepHi":0.09,"sepLo":-0.06},{"t":2.71,"gtHi":0.07,"gtLo":-0.06,"sepHi":0.07,"sepLo":-0.06},{"t":2.725,"gtHi":0.065,"gtLo":-0.06,"sepHi":0.065,"sepLo":-0.06},{"t":2.74,"gtHi":0.05,"gtLo":-0.045,"sepHi":0.05,"sepLo":-0.045},{"t":2.76,"gtHi":0.032,"gtLo":-0.02,"sepHi":0.032,"sepLo":-0.02},{"t":2.78,"gtHi":0.028,"gtLo":-0.018,"sepHi":0.028,"sepLo":-0.018},{"t":2.8,"gtHi":0.03,"gtLo":-0.016,"sepHi":0.03,"sepLo":-0.016},{"t":2.82,"gtHi":0.028,"gtLo":-0.018,"sepHi":0.028,"sepLo":-0.018},{"t":2.84,"gtHi":0.026,"gtLo":-0.016,"sepHi":0.026,"sepLo":-0.016},{"t":2.855,"gtHi":0.015,"gtLo":-0.01,"sepHi":0.015,"sepLo":-0.01},{"t":2.865,"gtHi":0.003,"gtLo":-0.003,"sepHi":0.003,"sepLo":-0.003},{"t":2.92,"gtHi":0.003,"gtLo":-0.003,"sepHi":0.003,"sepLo":-0.003},{"t":2.925,"gtHi":0.02,"gtLo":-0.018,"sepHi":0.02,"sepLo":-0.018},{"t":2.935,"gtHi":0.06,"gtLo":-0.05,"sepHi":0.06,"sepLo":-0.05},{"t":2.95,"gtHi":0.1,"gtLo":-0.078,"sepHi":0.1,"sepLo":-0.078},{"t":2.97,"gtHi":0.098,"gtLo":-0.08,"sepHi":0.098,"sepLo":-0.08},{"t":2.99,"gtHi":0.09,"gtLo":-0.07,"sepHi":0.09,"sepLo":-0.07},{"t":3.005,"gtHi":0.04,"gtLo":-0.03,"sepHi":0.04,"sepLo":-0.03},{"t":3.02,"gtHi":0.025,"gtLo":-0.022,"sepHi":0.025,"sepLo":-0.022},{"t":3.04,"gtHi":0.026,"gtLo":-0.024,"sepHi":0.026,"sepLo":-0.024},{"t":3.06,"gtHi":0.024,"gtLo":-0.022,"sepHi":0.024,"sepLo":-0.022},{"t":3.08,"gtHi":0.03,"gtLo":-0.03,"sepHi":0.03,"sepLo":-0.03},{"t":3.09,"gtHi":0.1,"gtLo":-0.08,"sepHi":0.1,"sepLo":-0.08},{"t":3.1,"gtHi":0.133,"gtLo":-0.094,"sepHi":0.133,"sepLo":-0.094},{"t":3.11,"gtHi":0.09,"gtLo":-0.07,"sepHi":0.09,"sepLo":-0.07},{"t":3.12,"gtHi":0.015,"gtLo":-0.012,"sepHi":0.015,"sepLo":-0.012},{"t":3.13,"gtHi":0.003,"gtLo":-0.003,"sepHi":0.003,"sepLo":-0.003},{"t":3.18,"gtHi":0.003,"gtLo":-0.003,"sepHi":0.003,"sepLo":-0.003},{"t":3.19,"gtHi":0.02,"gtLo":-0.015,"sepHi":0.02,"sepLo":-0.015},{"t":3.21,"gtHi":0.025,"gtLo":-0.022,"sepHi":0.025,"sepLo":-0.022},{"t":3.23,"gtHi":0.02,"gtLo":-0.02,"sepHi":0.02,"sepLo":-0.02},{"t":3.245,"gtHi":0.03,"gtLo":-0.025,"sepHi":0.03,"sepLo":-0.025},{"t":3.255,"gtHi":0.1,"gtLo":-0.08,"sepHi":0.1,"sepLo":-0.08},{"t":3.27,"gtHi":0.12,"gtLo":-0.094,"sepHi":0.12,"sepLo":-0.094},{"t":3.29,"gtHi":0.115,"gtLo":-0.094,"sepHi":0.115,"sepLo":-0.094},{"t":3.31,"gtHi":0.1,"gtLo":-0.09,"sepHi":0.1,"sepLo":-0.09},{"t":3.33,"gtHi":0.09,"gtLo":-0.07,"sepHi":0.09,"sepLo":-0.07},{"t":3.35,"gtHi":0.088,"gtLo":-0.06,"sepHi":0.088,"sepLo":-0.06},{"t":3.37,"gtHi":0.085,"gtLo":-0.058,"sepHi":0.085,"sepLo":-0.058},{"t":3.39,"gtHi":0.082,"gtLo":-0.058,"sepHi":0.082,"sepLo":-0.058},{"t":3.405,"gtHi":0.06,"gtLo":-0.045,"sepHi":0.06,"sepLo":-0.045},{"t":3.41,"gtHi":0.01,"gtLo":-0.01,"sepHi":0.01,"sepLo":-0.01},{"t":3.42,"gtHi":0.004,"gtLo":-0.004,"sepHi":0.004,"sepLo":-0.004},{"t":3.48,"gtHi":0.004,"gtLo":-0.004,"sepHi":0.004,"sepLo":-0.004},{"t":3.49,"gtHi":0.01,"gtLo":-0.01,"sepHi":0.01,"sepLo":-0.01},{"t":3.5,"gtHi":0.005,"gtLo":-0.005,"sepHi":0.005,"sepLo":-0.005},{"t":3.513,"gtHi":0.03,"gtLo":-0.025,"sepHi":0.03,"sepLo":-0.025},{"t":3.525,"gtHi":0.052,"gtLo":-0.045,"sepHi":0.052,"sepLo":-0.045},{"t":3.54,"gtHi":0.05,"gtLo":-0.042,"sepHi":0.05,"sepLo":-0.042},{"t":3.555,"gtHi":0.02,"gtLo":-0.02,"sepHi":0.02,"sepLo":-0.02},{"t":3.565,"gtHi":0.04,"gtLo":-0.035,"sepHi":0.04,"sepLo":-0.035},{"t":3.58,"gtHi":0.065,"gtLo":-0.06,"sepHi":0.065,"sepLo":-0.06},{"t":3.6,"gtHi":0.07,"gtLo":-0.07,"sepHi":0.07,"sepLo":-0.07},{"t":3.615,"gtHi":0.09,"gtLo":-0.08,"sepHi":0.09,"sepLo":-0.08},{"t":3.62,"gtHi":0.12,"gtLo":-0.12,"sepHi":0.12,"sepLo":-0.12},{"t":3.628,"gtHi":0.08,"gtLo":-0.075,"sepHi":0.08,"sepLo":-0.075},{"t":3.645,"gtHi":0.06,"gtLo":-0.06,"sepHi":0.06,"sepLo":-0.06},{"t":3.66,"gtHi":0.04,"gtLo":-0.04,"sepHi":0.04,"sepLo":-0.04},{"t":3.668,"gtHi":0.004,"gtLo":-0.004,"sepHi":0.004,"sepLo":-0.004},{"t":3.71,"gtHi":0.004,"gtLo":-0.004,"sepHi":0.004,"sepLo":-0.004},{"t":3.717,"gtHi":0.04,"gtLo":-0.04,"sepHi":0.04,"sepLo":-0.04},{"t":3.722,"gtHi":0.004,"gtLo":-0.004,"sepHi":0.004,"sepLo":-0.004},{"t":3.73,"gtHi":0.03,"gtLo":-0.03,"sepHi":0.03,"sepLo":-0.03},{"t":3.74,"gtHi":0.17,"gtLo":-0.15,"sepHi":0.17,"sepLo":-0.15},{"t":3.75,"gtHi":0.215,"gtLo":-0.175,"sepHi":0.215,"sepLo":-0.175},{"t":3.76,"gtHi":0.223,"gtLo":-0.184,"sepHi":0.223,"sepLo":-0.184},{"t":3.775,"gtHi":0.215,"gtLo":-0.185,"sepHi":0.215,"sepLo":-0.185},{"t":3.79,"gtHi":0.208,"gtLo":-0.175,"sepHi":0.208,"sepLo":-0.175},{"t":3.81,"gtHi":0.206,"gtLo":-0.168,"sepHi":0.206,"sepLo":-0.168},{"t":3.83,"gtHi":0.205,"gtLo":-0.165,"sepHi":0.205,"sepLo":-0.165},{"t":3.85,"gtHi":0.203,"gtLo":-0.17,"sepHi":0.203,"sepLo":-0.17},{"t":3.87,"gtHi":0.205,"gtLo":-0.168,"sepHi":0.205,"sepLo":-0.168},{"t":3.89,"gtHi":0.2,"gtLo":-0.165,"sepHi":0.2,"sepLo":-0.165},{"t":3.905,"gtHi":0.195,"gtLo":-0.16,"sepHi":0.195,"sepLo":-0.16},{"t":3.915,"gtHi":0.13,"gtLo":-0.1,"sepHi":0.13,"sepLo":-0.1},{"t":3.925,"gtHi":0.095,"gtLo":-0.055,"sepHi":0.095,"sepLo":-0.055},{"t":3.94,"gtHi":0.094,"gtLo":-0.05,"sepHi":0.094,"sepLo":-0.05},{"t":3.96,"gtHi":0.092,"gtLo":-0.05,"sepHi":0.092,"sepLo":-0.05},{"t":3.98,"gtHi":0.09,"gtLo":-0.048,"sepHi":0.09,"sepLo":-0.048},{"t":4.0,"gtHi":0.092,"gtLo":-0.05,"sepHi":0.092,"sepLo":-0.05},{"t":4.02,"gtHi":0.09,"gtLo":-0.05,"sepHi":0.09,"sepLo":-0.05},{"t":4.04,"gtHi":0.088,"gtLo":-0.048,"sepHi":0.088,"sepLo":-0.048},{"t":4.06,"gtHi":0.085,"gtLo":-0.048,"sepHi":0.085,"sepLo":-0.048},{"t":4.08,"gtHi":0.082,"gtLo":-0.048,"sepHi":0.082,"sepLo":-0.048},{"t":4.1,"gtHi":0.084,"gtLo":-0.045,"sepHi":0.084,"sepLo":-0.045},{"t":4.115,"gtHi":0.07,"gtLo":-0.04,"sepHi":0.07,"sepLo":-0.04},{"t":4.125,"gtHi":0.02,"gtLo":-0.015,"sepHi":0.02,"sepLo":-0.015},{"t":4.13,"gtHi":0.004,"gtLo":-0.004,"sepHi":0.004,"sepLo":-0.004},{"t":4.185,"gtHi":0.004,"gtLo":-0.004,"sepHi":0.004,"sepLo":-0.004},{"t":4.195,"gtHi":0.02,"gtLo":-0.02,"sepHi":0.02,"sepLo":-0.02},{"t":4.21,"gtHi":0.04,"gtLo":-0.038,"sepHi":0.04,"sepLo":-0.038},{"t":4.225,"gtHi":0.03,"gtLo":-0.03,"sepHi":0.03,"sepLo":-0.03},{"t":4.235,"gtHi":0.004,"gtLo":-0.004,"sepHi":0.004,"sepLo":-0.004},{"t":4.285,"gtHi":0.004,"gtLo":-0.004,"sepHi":0.004,"sepLo":-0.004},{"t":4.29,"gtHi":0.028,"gtLo":-0.025,"sepHi":0.028,"sepLo":-0.025},{"t":4.295,"gtHi":0.004,"gtLo":-0.004,"sepHi":0.004,"sepLo":-0.004},{"t":4.315,"gtHi":0.004,"gtLo":-0.004,"sepHi":0.004,"sepLo":-0.004},{"t":4.32,"gtHi":0.03,"gtLo":-0.03,"sepHi":0.03,"sepLo":-0.03},{"t":4.335,"gtHi":0.075,"gtLo":-0.06,"sepHi":0.075,"sepLo":-0.06},{"t":4.355,"gtHi":0.088,"gtLo":-0.067,"sepHi":0.088,"sepLo":-0.067},{"t":4.375,"gtHi":0.085,"gtLo":-0.066,"sepHi":0.085,"sepLo":-0.066},{"t":4.395,"gtHi":0.08,"gtLo":-0.062,"sepHi":0.08,"sepLo":-0.062},{"t":4.41,"gtHi":0.06,"gtLo":-0.045,"sepHi":0.06,"sepLo":-0.045},{"t":4.42,"gtHi":0.01,"gtLo":-0.01,"sepHi":0.01,"sepLo":-0.01},{"t":4.43,"gtHi":0.004,"gtLo":-0.004,"sepHi":0.004,"sepLo":-0.004},{"t":4.47,"gtHi":0.004,"gtLo":-0.004,"sepHi":0.004,"sepLo":-0.004},{"t":4.48,"gtHi":0.03,"gtLo":-0.03,"sepHi":0.03,"sepLo":-0.03},{"t":4.495,"gtHi":0.06,"gtLo":-0.055,"sepHi":0.06,"sepLo":-0.055},{"t":4.515,"gtHi":0.068,"gtLo":-0.062,"sepHi":0.068,"sepLo":-0.062},{"t":4.535,"gtHi":0.072,"gtLo":-0.06,"sepHi":0.072,"sepLo":-0.06},{"t":4.55,"gtHi":0.06,"gtLo":-0.05,"sepHi":0.06,"sepLo":-0.05},{"t":4.56,"gtHi":0.025,"gtLo":-0.02,"sepHi":0.025,"sepLo":-0.02},{"t":4.575,"gtHi":0.028,"gtLo":-0.024,"sepHi":0.028,"sepLo":-0.024},{"t":4.595,"gtHi":0.03,"gtLo":-0.022,"sepHi":0.03,"sepLo":-0.022},{"t":4.615,"gtHi":0.026,"gtLo":-0.02,"sepHi":0.026,"sepLo":-0.02},{"t":4.64,"gtHi":0.03,"gtLo":-0.025,"sepHi":0.03,"sepLo":-0.025},{"t":4.665,"gtHi":0.028,"gtLo":-0.022,"sepHi":0.028,"sepLo":-0.022},{"t":4.69,"gtHi":0.031,"gtLo":-0.026,"sepHi":0.031,"sepLo":-0.026},{"t":4.705,"gtHi":0.025,"gtLo":-0.02,"sepHi":0.025,"sepLo":-0.02},{"t":4.718,"gtHi":0.01,"gtLo":-0.008,"sepHi":0.01,"sepLo":-0.008},{"t":4.735,"gtHi":0.006,"gtLo":-0.005,"sepHi":0.006,"sepLo":-0.005},{"t":4.755,"gtHi":0.015,"gtLo":-0.012,"sepHi":0.015,"sepLo":-0.012},{"t":4.77,"gtHi":0.026,"gtLo":-0.024,"sepHi":0.026,"sepLo":-0.024},{"t":4.79,"gtHi":0.028,"gtLo":-0.028,"sepHi":0.028,"sepLo":-0.028},{"t":4.81,"gtHi":0.028,"gtLo":-0.029,"sepHi":0.028,"sepLo":-0.029},{"t":4.83,"gtHi":0.027,"gtLo":-0.028,"sepHi":0.027,"sepLo":-0.028},{"t":4.85,"gtHi":0.028,"gtLo":-0.026,"sepHi":0.028,"sepLo":-0.026},{"t":4.87,"gtHi":0.024,"gtLo":-0.022,"sepHi":0.024,"sepLo":-0.022},{"t":4.89,"gtHi":0.018,"gtLo":-0.016,"sepHi":0.018,"sepLo":-0.016},{"t":4.91,"gtHi":0.01,"gtLo":-0.009,"sepHi":0.01,"sepLo":-0.009},{"t":4.935,"gtHi":0.003,"gtLo":-0.003,"sepHi":0.003,"sepLo":-0.003},{"t":4.998,"gtHi":0.002,"gtLo":-0.002,"sepHi":0.002,"sepLo":-0.002}
    ]
  },
  "vconcat": [
    {
      "width": 687,
      "height": 126,
      "title": "Test Soundscape",
      "data": {"name": "soundscape"},
      "layer": [
        {
          "mark": {"type": "area", "color": "#FF00FF", "stroke": "#FF00FF", "strokeWidth": 1, "clip": true},
          "encoding": {
            "x": {"field": "t", "type": "quantitative", "scale": {"domain": [0, 4.998], "nice": false, "zero": false},
                  "axis": {"orient": "bottom", "title": null, "values": [0, 0.5, 1, 1.5, 2, 2.5, 3, 3.5, 4, 4.5], "format": "~g"}},
            "y": {"field": "hi", "type": "quantitative", "scale": {"domain": [-0.3, 0.315], "nice": false, "zero": false},
                  "axis": {"orient": "left", "title": null, "values": [-0.2, 0, 0.2], "format": "~g", "labelExpr": "replace(datum.label, '\u2212', '-')"}},
            "y2": {"field": "lo"}
          }
        },
        {
          "mark": {"type": "line", "color": "#FF00FF", "strokeWidth": 1, "clip": true},
          "encoding": {
            "x": {"field": "t", "type": "quantitative", "axis": {"orient": "top", "title": null, "values": [0, 0.5, 1, 1.5, 2, 2.5, 3, 3.5, 4, 4.5], "labels": false}},
            "y": {"datum": 0, "type": "quantitative", "axis": {"orient": "right", "title": null, "values": [-0.2, 0, 0.2], "labels": false}}
          }
        }
      ],
      "resolve": {"axis": {"x": "independent", "y": "independent"}}
    },
    {
      "width": 687,
      "height": 127,
      "title": "Separated Other Sources along with Ground Truth",
      "data": {"name": "other"},
      "layer": [
        {
          "mark": {"type": "area", "fill": "#0072BD", "clip": true},
          "encoding": {
            "x": {"field": "t", "type": "quantitative", "scale": {"domain": [0, 4.998], "nice": false, "zero": false},
                  "axis": {"orient": "bottom", "title": null, "values": [0, 0.5, 1, 1.5, 2, 2.5, 3, 3.5, 4, 4.5], "format": "~g"}},
            "y": {"field": "gtHi", "type": "quantitative", "scale": {"domain": [-0.21, 0.192], "nice": false, "zero": false},
                  "axis": {"orient": "left", "title": null, "values": [-0.2, -0.1, 0, 0.1], "format": "~g", "labelExpr": "replace(datum.label, '\u2212', '-')"}},
            "y2": {"field": "gtLo"},
            "stroke": {"datum": "Ground Truth: Other Sources", "type": "nominal",
                       "scale": {"domain": ["Ground Truth: Other Sources", "Separated Other Sources"], "range": ["#0072BD", "#FF0000"]},
                       "legend": {"title": null, "orient": "none", "legendX": 354.4, "legendY": 65.7}},
            "strokeWidth": {"datum": "Ground Truth: Other Sources", "type": "ordinal",
                            "scale": {"domain": ["Ground Truth: Other Sources", "Separated Other Sources"], "range": [4, 1]},
                            "legend": {"title": null, "orient": "none", "legendX": 354.4, "legendY": 65.7}}
          }
        },
        {
          "mark": {"type": "area", "fill": "#FF0000", "clip": true},
          "encoding": {
            "x": {"field": "t", "type": "quantitative", "axis": {"orient": "top", "title": null, "values": [0, 0.5, 1, 1.5, 2, 2.5, 3, 3.5, 4, 4.5], "labels": false}},
            "y": {"field": "sepHi", "type": "quantitative", "axis": {"orient": "right", "title": null, "values": [-0.2, -0.1, 0, 0.1], "labels": false}},
            "y2": {"field": "sepLo"},
            "stroke": {"datum": "Separated Other Sources", "type": "nominal"},
            "strokeWidth": {"datum": "Separated Other Sources", "type": "ordinal"}
          }
        }
      ],
      "resolve": {"axis": {"x": "independent", "y": "independent"}}
    },
    {
      "width": 687,
      "height": 129,
      "title": "Separated Speech Source along with Ground Truth",
      "data": {"name": "speech"},
      "layer": [
        {
          "mark": {"type": "area", "fill": "#0072BD", "clip": true},
          "encoding": {
            "x": {"field": "t", "type": "quantitative", "scale": {"domain": [0, 4.998], "nice": false, "zero": false},
                  "axis": {"orient": "bottom", "title": null, "values": [0, 0.5, 1, 1.5, 2, 2.5, 3, 3.5, 4, 4.5], "format": "~g"}},
            "y": {"field": "gtHi", "type": "quantitative", "scale": {"domain": [-0.304, 0.32], "nice": false, "zero": false},
                  "axis": {"orient": "left", "title": null, "values": [-0.2, 0, 0.2], "format": "~g", "labelExpr": "replace(datum.label, '\u2212', '-')"}},
            "y2": {"field": "gtLo"},
            "stroke": {"datum": "Ground Truth: Speech Source", "type": "nominal",
                       "scale": {"domain": ["Ground Truth: Speech Source", "Separated Speech Source"], "range": ["#0072BD", "#FF0000"]},
                       "legend": {"title": null, "orient": "none", "legendX": 156.7, "legendY": 86}},
            "strokeWidth": {"datum": "Ground Truth: Speech Source", "type": "ordinal",
                            "scale": {"domain": ["Ground Truth: Speech Source", "Separated Speech Source"], "range": [4, 1]},
                            "legend": {"title": null, "orient": "none", "legendX": 156.7, "legendY": 86}}
          }
        },
        {
          "mark": {"type": "area", "fill": "#FF0000", "clip": true},
          "encoding": {
            "x": {"field": "t", "type": "quantitative", "axis": {"orient": "top", "title": null, "values": [0, 0.5, 1, 1.5, 2, 2.5, 3, 3.5, 4, 4.5], "labels": false}},
            "y": {"field": "sepHi", "type": "quantitative", "axis": {"orient": "right", "title": null, "values": [-0.2, 0, 0.2], "labels": false}},
            "y2": {"field": "sepLo"},
            "stroke": {"datum": "Separated Speech Source", "type": "nominal"},
            "strokeWidth": {"datum": "Separated Speech Source", "type": "ordinal"}
          }
        }
      ],
      "resolve": {"axis": {"x": "independent", "y": "independent"}}
    }
  ],
  "resolve": {
    "scale": {"stroke": "independent", "strokeWidth": "independent"},
    "legend": {"stroke": "independent", "strokeWidth": "independent"}
  },
  "config": {
    "font": "Liberation Sans",
    "view": {"stroke": "#262626", "strokeWidth": 1},
    "title": {"fontSize": 23, "fontWeight": "bold", "color": "#000000", "anchor": "middle", "offset": 6},
    "axis": {"grid": false, "domain": false, "labelFontSize": 20, "labelFontWeight": "bold", "labelColor": "#262626",
             "tickColor": "#262626", "tickSize": -7, "tickWidth": 1, "labelFlush": false, "labelOverlap": false, "labelBound": false},
    "axisBottom": {"labelPadding": 21},
    "axisLeft": {"labelPadding": 16},
    "legend": {"symbolType": "stroke", "symbolSize": 3844, "labelFontSize": 19, "labelFontWeight": "bold", "labelColor": "#000000",
               "labelLimit": 0, "strokeColor": "#262626", "fillColor": "#ffffff", "padding": 2, "clipHeight": 27,
               "rowPadding": 0, "symbolOffset": 3, "labelOffset": 6}
  }
}
